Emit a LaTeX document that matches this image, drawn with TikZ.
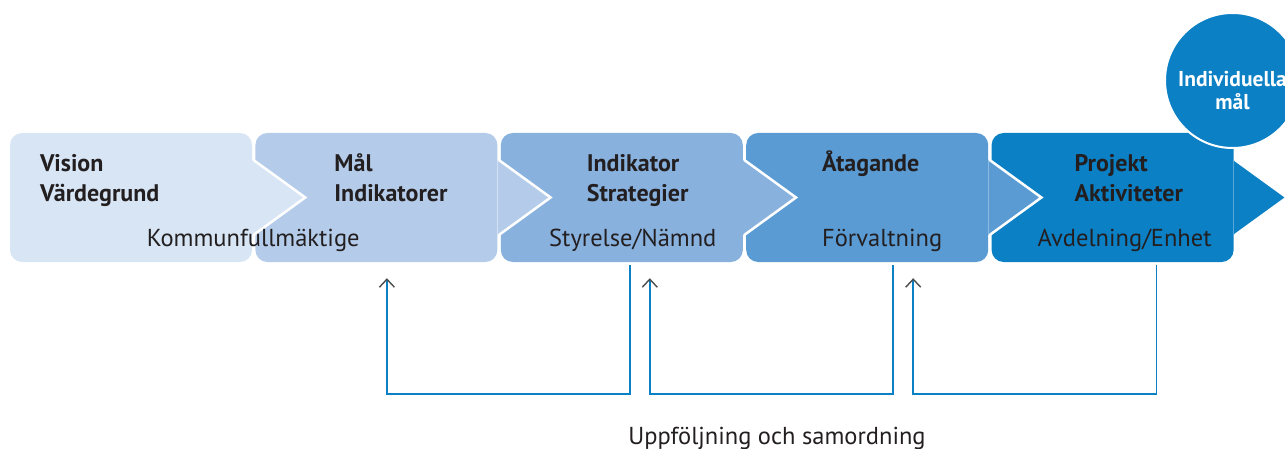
\documentclass[tikz,border=0pt]{standalone}
\usepackage{fontspec}
\setmainfont{PT Sans}
\usetikzlibrary{positioning, arrows.meta}
\definecolor{stepA}{HTML}{D7E5F4}
\definecolor{stepB}{HTML}{B4CCEA}
\definecolor{stepC}{HTML}{88B1DE}
\definecolor{stepD}{HTML}{5A9BD4}
\definecolor{stepE}{HTML}{0B80C5}
\definecolor{ink}{HTML}{231F20}
\definecolor{tipgray}{HTML}{4D4D4D}
\tikzset{
stage/.style={rectangle, rounded corners=12pt, minimum width=242pt, minimum height=129pt, inner sep=0pt}, % the five boxes
title/.style={font=\bfseries\fontsize{24}{30}\selectfont, align=left, anchor=base west, text=ink, inner sep=0pt},
unit/.style={font=\fontsize{24.5}{28}\selectfont, anchor=base, text=ink, inner sep=0pt},
feedback/.style={draw=stepE, line width=1.6pt, -{Straight Barb[length=8pt, width=15pt, color=tipgray, line width=1.4pt]}},
}

\begin{document}
\begin{tikzpicture}[x=1pt, y=-1pt]
    \useasboundingbox (0,0) rectangle (1285,449);
    \node[stage, fill=stepA] (vision) at (131,197.5) {};
    \node[stage, fill=stepB, right=3pt of vision] (mal) {};
    \node[stage, fill=stepC, right=3pt of mal] (indikator) {};
    \node[stage, fill=stepD, right=3pt of indikator] (atagande) {};
    \node[stage, fill=stepE, right=3pt of atagande] (projekt) {};

    % arrow points over the next box
    \foreach \a/\c in {vision/stepA, mal/stepB, indikator/stepC, atagande/stepD, projekt/stepE} {
        \fill[\c] ([yshift=-27pt]\a.north east) -- ([xshift=53pt]\a.east) -- ([yshift=27pt]\a.south east) -- cycle;
        \draw[white, line width=2.5pt] ([xshift=1pt, yshift=-27pt]\a.north east) -- ([xshift=53pt]\a.east) -- ([xshift=1pt, yshift=27pt]\a.south east);
    }

    % base anchor sits on the last line
    \node[title] (visiontxt) at ([xshift=30pt, yshift=-69pt]vision.north west) {Vision\\Värdegrund};
    \node[title] (maltxt) at ([xshift=79pt, yshift=-69pt]mal.north west) {Mål\\Indikatorer};
    \node[title] (indikatortxt) at ([xshift=86pt, yshift=-69pt]indikator.north west) {Indikator\\Strategier};
    \node[title] (atagandetxt) at ([xshift=76pt, yshift=-39pt]atagande.north west) {Åtagande};
    \node[title] (projekttxt) at ([xshift=83pt, yshift=-69pt]projekt.north west) {Projekt\\Aktiviteter};

    \node[unit] (kf) at ([xshift=1pt, yshift=16pt]vision.south east) {Kommunfullmäktige};
    \node[unit] (styrelse) at ([xshift=11pt, yshift=16pt]indikator.south) {Styrelse/Nämnd};
    \node[unit] (forvaltning) at ([xshift=15pt, yshift=16pt]atagande.south) {Förvaltning};
    \node[unit] (avdelning) at ([xshift=12pt, yshift=16pt]projekt.south) {Avdelning/Enhet};

    \node[circle, fill=stepE, draw=white, line width=2pt, minimum size=135pt, inner sep=0pt] (individ) at (1232.5,80.5) {};
    \node[font=\bfseries\fontsize{21.5}{23}\selectfont, text=white, align=center, inner sep=0pt] (individtxt) at ([yshift=-10pt]individ.center) {Individuella\\mål};

    \draw[feedback] ([xshift=8pt, yshift=-3pt]indikator.south) -- ++(0,129) -| ([xshift=10.5pt, yshift=-16pt]mal.south);
    \draw[feedback] ([xshift=26pt, yshift=-3pt]atagande.south) -- ++(0,129) -| ([xshift=28pt, yshift=-16pt]indikator.south);
    \draw[feedback] ([xshift=44pt, yshift=-3pt]projekt.south) -- ++(0,129) -| ([xshift=46pt, yshift=-16pt]atagande.south);

    \node[unit] (uppfoljning) at (777,444) {Uppföljning och samordning};
\end{tikzpicture}
\end{document}
